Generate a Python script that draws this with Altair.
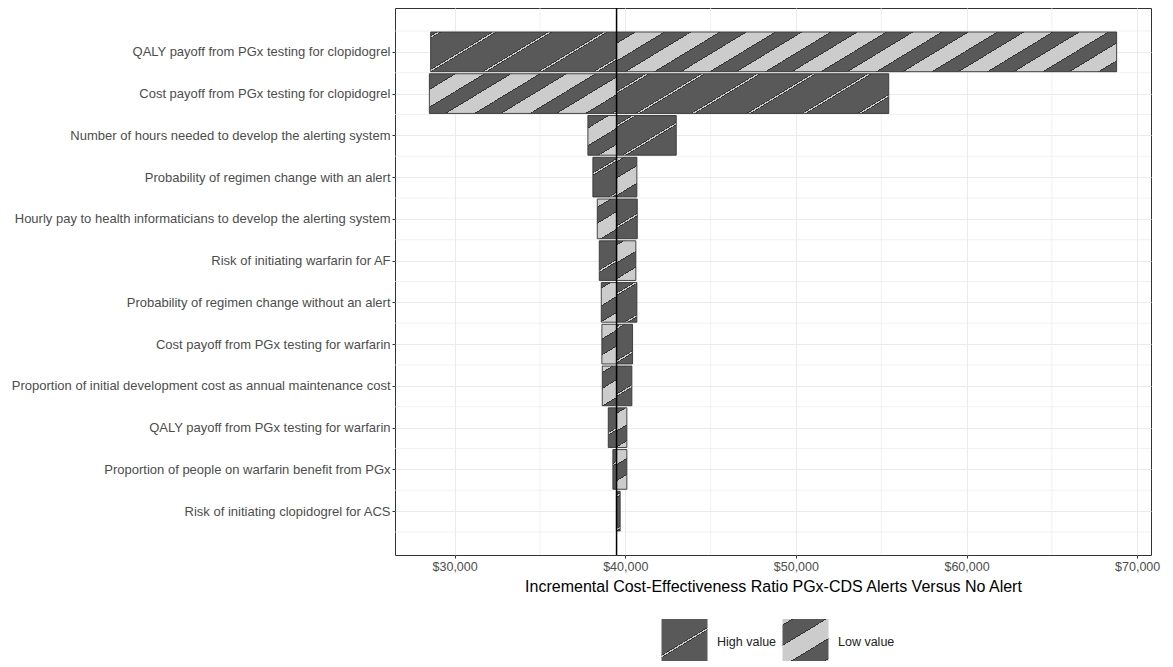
import math
import json
import altair as alt

# ---------------- data ----------------
categories = [
    "QALY payoff from PGx testing for clopidogrel",
    "Cost payoff from PGx testing for clopidogrel",
    "Number of hours needed to develop the alerting system",
    "Probability of regimen change with an alert",
    "Hourly pay to health informaticians to develop the alerting system",
    "Risk of initiating warfarin for AF",
    "Probability of regimen change without an alert",
    "Cost payoff from PGx testing for warfarin",
    "Proportion of initial development cost as annual maintenance cost",
    "QALY payoff from PGx testing for warfarin",
    "Proportion of people on warfarin benefit from PGx",
    "Risk of initiating clopidogrel for ACS",
]
icer_high = [28594, 55442, 42988, 38102, 40703, 38477, 40680, 40428, 40387, 39004, 39274, 39700]
icer_low = [68798, 28519, 37809, 40680, 38360, 40621, 38594, 38629, 38653, 40094, 40094, 39480]
base_icer = 39490
x_ticks = [30000, 40000, 50000, 60000, 70000]
legend_labels = ["High value", "Low value"]
x_title = "Incremental Cost-Effectiveness Ratio PGx-CDS Alerts Versus No Alert"

# ---------------- layout / style ----------------
W_PLOT, H_PLOT = 756, 547
FONT = "Liberation Sans"
BAR = 0.95
Y_LO, Y_HI = -1.05, len(categories) + 0.05
all_vals = icer_high + icer_low + [base_icer]
span = max(all_vals) - min(all_vals)
X_LO, X_HI = min(all_vals) - 0.05 * span, max(all_vals) + 0.05 * span
SX = W_PLOT / (X_HI - X_LO)
SY = H_PLOT / (Y_HI - Y_LO)

DARK, LIGHT, EDGE = "#595959", "#cccccc", "#333333"
K = 1.65  # stripe slope factor
PATTERN = {
    "High value": dict(period=55.5, half=1.2, outline=1.4, phase=28.0),
    "Low value": dict(period=55.5, half=13.8, outline=1.6, phase=17.0),
}


def stripe_gradient(w, h, f0, period, half, outline, phase):
    F = w + K * h
    s = F / (w * w + (K * h) ** 2)
    x2, y2 = s * w, s * K * h
    ev = []
    n0 = math.floor((f0 - period - phase) / period) - 1
    n1 = math.ceil((f0 + F + period - phase) / period) + 1
    for n in range(n0, n1 + 1):
        c = phase + n * period
        a, b, d, e = c - half - outline, c - half, c + half, c + half + outline
        ev += [(a, DARK), (a, EDGE), (b, EDGE), (b, LIGHT),
               (d, LIGHT), (d, EDGE), (e, EDGE), (e, DARK)]
    ev = [((f - f0) / F, col) for f, col in ev]
    stops = []
    before = [p for p in ev if p[0] <= 0]
    if before:
        stops.append({"offset": 0, "color": before[-1][1]})
    for t, col in ev:
        if 0 < t < 1:
            stops.append({"offset": round(t, 5), "color": col})
    after = [p for p in ev if p[0] >= 1]
    if after:
        stops.append({"offset": 1, "color": after[0][1]})
    return {"gradient": "linear", "x1": 0, "y1": 0,
            "x2": round(x2, 6), "y2": round(y2, 6), "stops": stops}


records = []
for i, cat in enumerate(categories):
    for typ, v in ((legend_labels[0], icer_high[i]), (legend_labels[1], icer_low[i])):
        a, b = min(base_icer, v), max(base_icer, v)
        wpx = max((b - a) * SX, 0.5)
        hpx = BAR * SY
        f0 = (a - X_LO) * SX + K * (i - BAR / 2 - Y_LO) * SY
        records.append({"idx": i, "x0": a, "x1": b, "type": typ,
                        "grad": stripe_gradient(wpx, hpx, f0, **PATTERN[typ])})

key_high = stripe_gradient(46, 46, 0, period=300, half=1.2, outline=1.4, phase=62)
key_low = stripe_gradient(46, 46, 0, period=68, half=16.5, outline=1.6, phase=61)

xscale = alt.Scale(domain=[X_LO, X_HI], nice=False, zero=False)
yscale = alt.Scale(domain=[Y_LO, Y_HI], nice=False, zero=False, reverse=True)

label_expr = "[" + ",".join("'" + c + "'" for c in categories) + "][datum.value]"

xaxis = alt.Axis(
    values=x_ticks, format="$,.0f", title=x_title, titleFontSize=16,
    titleColor="black", titleFontWeight="normal", titlePadding=6,
    labelPadding=2, labelFlush=False, labelOverlap=False, grid=True)
yaxis = alt.Axis(
    values=list(range(len(categories))), labelExpr=label_expr, title=None,
    labelLimit=1000, labelPadding=2, labelFontSize=13, grid=True)

x_minor = [(x_ticks[j] + x_ticks[j + 1]) / 2 for j in range(len(x_ticks) - 1)]
y_minor = [i - 0.5 for i in range(len(categories) + 1)]

grid_x = alt.Chart(alt.Data(values=[{"g": g} for g in x_minor])).mark_rule(
    color="#ebebeb", strokeWidth=0.7
).encode(x=alt.X("g:Q", scale=xscale, axis=xaxis))

grid_y = alt.Chart(alt.Data(values=[{"g": g} for g in y_minor])).mark_rule(
    color="#ebebeb", strokeWidth=0.7
).encode(y=alt.Y("g:Q", scale=yscale, axis=yaxis))

bars = alt.Chart(alt.Data(values=records)).transform_calculate(
    yt=f"datum.idx - {BAR / 2}", yb=f"datum.idx + {BAR / 2}"
).mark_bar(stroke=EDGE, strokeWidth=0.9).encode(
    x=alt.X("x0:Q", scale=xscale, axis=xaxis),
    x2="x1:Q",
    y=alt.Y("yt:Q", scale=yscale, axis=yaxis),
    y2="yb:Q",
    fill=alt.Fill("grad:N", scale=None),
)

vline = alt.Chart(alt.Data(values=[{"base": base_icer}])).mark_rule(
    color="black", strokeWidth=1.5
).encode(x=alt.X("base:Q", scale=xscale, axis=xaxis))

legend_fill_expr = (
    "datum.value === '" + legend_labels[0] + "' ? "
    + json.dumps(key_high) + " : " + json.dumps(key_low)
)
legend_layer = alt.Chart(alt.Data(values=[{"type": t} for t in legend_labels])).mark_point(
    size=0, filled=True, fill=alt.ExprRef(expr=legend_fill_expr),
    stroke=EDGE, strokeWidth=0.8, opacity=1,
).encode(
    shape=alt.Shape("type:N", scale=alt.Scale(domain=legend_labels, range=["square", "square"]),
                    legend=alt.Legend(
                        orient="none", legendX=266, legendY=610, direction="horizontal",
                        title=None, symbolType="square", symbolSize=2116,
                        symbolStrokeColor=EDGE, symbolStrokeWidth=0.8, symbolOpacity=1,
                        labelFontSize=12.5, labelColor="#222222", labelFont=FONT,
                        labelOffset=9, columnPadding=3, padding=0))
)

chart = alt.layer(grid_x, grid_y, bars, vline, legend_layer).properties(
    width=W_PLOT, height=H_PLOT,
    padding={"left": 387, "top": 0, "right": 14, "bottom": 106},
    autosize=alt.AutoSizeParams(type="none"),
).configure_view(
    stroke=EDGE, strokeWidth=1
).configure_axis(
    labelFont=FONT, titleFont=FONT, domain=False, tickColor=EDGE, tickSize=3,
    tickWidth=1, labelColor="#4d4d4d", labelFontSize=12.5,
    gridColor="#ebebeb", gridWidth=1.1,
)

chart.save("out.html", embed_options={"renderer": "svg", "actions": False})
